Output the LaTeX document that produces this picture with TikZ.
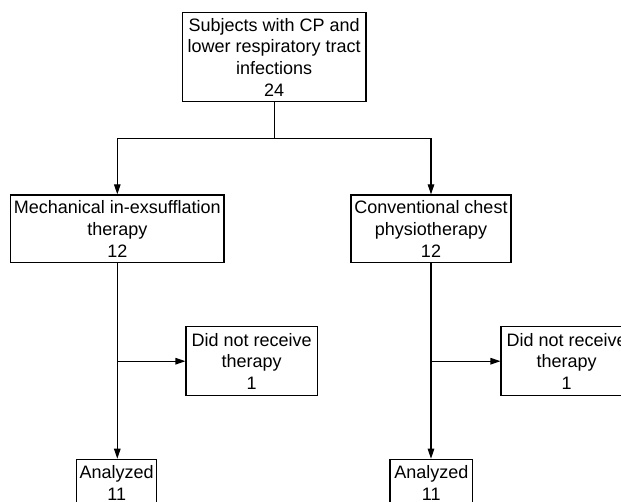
\documentclass[tikz,border=0pt]{standalone}
\usepackage{fontspec}
\setmainfont{Liberation Sans}
\usetikzlibrary{arrows.meta}
\begin{document}
\begin{tikzpicture}[x=1pt,y=-1pt,
  box/.style={draw, line width=1.2pt, inner sep=0pt, align=center,
    font=\fontsize{18}{21.7}\selectfont},
  conn/.style={line width=1.2pt},
  arr/.style={conn, -{Triangle[length=10pt,width=6.5pt]}}]
\fill[white] (0,0) rectangle (621,501);
\clip (0,0) rectangle (621,501);
\node[box, minimum width=183.7pt, minimum height=89pt] (top) at (274.2,57.2)
  {Subjects with CP and\\lower respiratory tract\\infections\\24};
\node[box, minimum width=213.3pt, minimum height=67.7pt] (mie) at (117.3,228.8)
  {Mechanical in-exsufflation\\therapy\\12};
\node[box, minimum width=160pt, minimum height=67.7pt] (cpt) at (431,228.8)
  {Conventional chest\\physiotherapy\\12};
\node[box, minimum width=131.3pt, minimum height=69pt] (dnL) at (251.7,361.2)
  {Did not receive\\therapy\\1};
\node[box, minimum width=131.3pt, minimum height=69pt] (dnR) at (566.7,361.2)
  {Did not receive\\therapy\\1};
\node[box, minimum width=80pt, minimum height=47.4pt] (anL) at (116.7,483)
  {Analyzed\\11};
\node[box, minimum width=82.7pt, minimum height=47.4pt] (anR) at (431.3,483)
  {Analyzed\\11};
\coordinate (split) at ([yshift=-36pt]top.south);
\draw[conn] (top.south) -- (split);
\draw[arr] (split) -| (mie.north);
\draw[arr] (split) -| (cpt.north);
\draw[arr] (mie.south) -- (mie.south |- anL.north);
\draw[arr] (cpt.south) -- (cpt.south |- anR.north);
\draw[arr] (mie.south |- dnL.west) -- (dnL.west);
\draw[arr] (cpt.south |- dnR.west) -- (dnR.west);
\end{tikzpicture}
\end{document}
